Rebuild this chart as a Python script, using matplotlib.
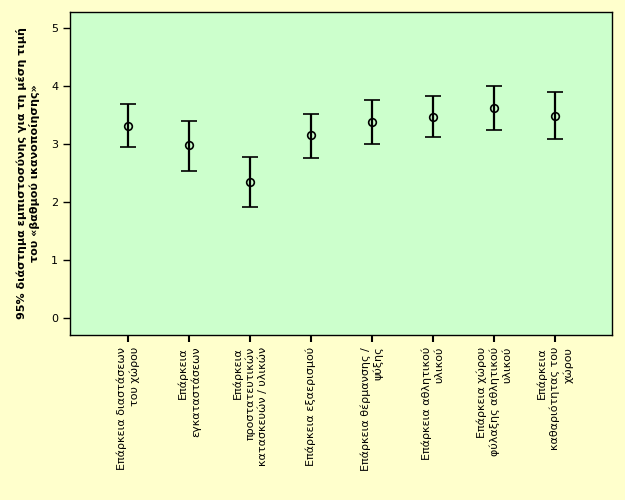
import matplotlib
matplotlib.use('Agg')
import matplotlib.pyplot as plt
import numpy as np

labels = [
    "Επάρκεια διαστάσεων\nτου χώρου",
    "Επάρκεια\nεγκαταστάσεων",
    "Επάρκεια\nπροστατευτικών\nκατασκευών / υλικών",
    "Επάρκεια εξαερισμού",
    "Επάρκεια θέρμανσης /\nψύξης",
    "Επάρκεια αθλητικού\nυλικού",
    "Επάρκεια χώρου\nφύλαξης αθλητικού\nυλικού",
    "Επάρκεια\nκαθαριότητας του\nχώρου",
]
means = [3.31, 2.98, 2.34, 3.16, 3.38, 3.47, 3.62, 3.48]
lower = [2.95, 2.53, 1.91, 2.76, 3.00, 3.12, 3.24, 3.09]
upper = [3.69, 3.40, 2.78, 3.52, 3.76, 3.83, 4.00, 3.90]
yticks = [0, 1, 2, 3, 4, 5]

fig = plt.figure(figsize=(6.25, 5), dpi=100, facecolor='#FFFFCC')
ax = fig.add_axes([0.112, 0.33, 0.867, 0.646])
ax.set_facecolor('#CCFFCC')

x = np.arange(1, len(means) + 1)
m = np.array(means)
err = [m - np.array(lower), np.array(upper) - m]
ax.errorbar(x, m, yerr=err, fmt='o', mfc='none', mec='black', mew=1.2, ms=5.5,
            ecolor='black', elinewidth=1.6, capsize=5.8, capthick=1.6)

ax.set_xlim(0.05, 8.93)
ax.set_ylim(-0.29, 5.28)
ax.set_yticks(yticks)
ax.set_xticks(x)
ax.set_xticklabels(labels, rotation=90, ha='center', va='top',
                   multialignment='right', fontsize=8, linespacing=1.3)
ax.tick_params(axis='both', direction='out', length=5, width=1, labelsize=8)
ax.tick_params(axis='x', width=1.5)
ax.set_ylabel("95% διάστημα εμπιστοσύνης για τη μέση τιμή\nτου «βαθμού ικανοποίησης»",
              fontsize=8, fontweight='bold', labelpad=8)
for s in ax.spines.values():
    s.set_linewidth(1)

fig.savefig('out.png', dpi=100, facecolor=fig.get_facecolor())
